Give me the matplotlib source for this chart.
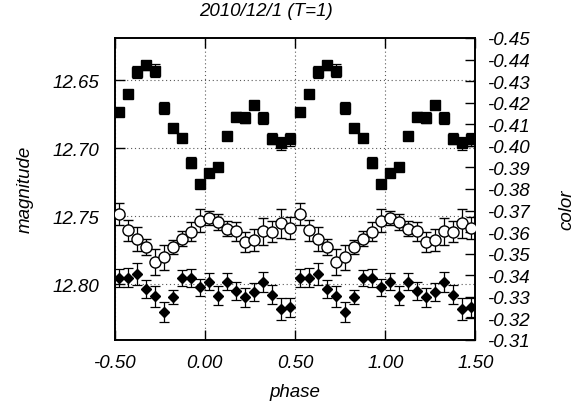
import matplotlib
matplotlib.use('Agg')
import matplotlib.pyplot as plt
import numpy as np

plt.rcParams['font.family'] = ['Liberation Sans', 'DejaVu Sans']
plt.rcParams['font.style'] = 'italic'
plt.rcParams['axes.unicode_minus'] = False

# phase bin centres for one cycle (plotted twice, shifted by one period)
phase = [-0.475, -0.425, -0.375, -0.325, -0.275, -0.225, -0.175, -0.125, -0.075, -0.025,
         0.025, 0.075, 0.125, 0.175, 0.225, 0.275, 0.325, 0.375, 0.425, 0.475]

# filled squares (magnitude, left axis)
mag_sq = [12.6735, 12.6600, 12.6438, 12.6392, 12.6429, 12.6703, 12.6853, 12.6924, 12.7107, 12.7265,
          12.7181, 12.7137, 12.6907, 12.6769, 12.6776, 12.6681, 12.6776, 12.6929, 12.6965, 12.6936]
err_sq = [0.0025, 0.003, 0.0045, 0.0035, 0.0045, 0.0043, 0.0025, 0.0025, 0.004, 0.003,
          0.0025, 0.0025, 0.0025, 0.0034, 0.0039, 0.0025, 0.0044, 0.0043, 0.0049, 0.0045]

# filled diamonds (magnitude, left axis)
mag_dm = [12.7954, 12.7954, 12.7926, 12.8034, 12.8090, 12.8203, 12.8093, 12.7951, 12.7957, 12.8024,
          12.7980, 12.8085, 12.7980, 12.8051, 12.8096, 12.8056, 12.7982, 12.8076, 12.8182, 12.8171]
err_dm = [0.0064, 0.0070, 0.0081, 0.0068, 0.0076, 0.0074, 0.0051, 0.0059, 0.0066, 0.0066,
          0.0064, 0.0071, 0.0064, 0.0066, 0.0070, 0.0064, 0.0074, 0.0070, 0.0079, 0.0068]

# open circles (color, right axis)
col = [-0.3684, -0.3608, -0.3570, -0.3533, -0.3460, -0.3483, -0.3532, -0.3570, -0.3601, -0.3653,
       -0.3665, -0.3646, -0.3616, -0.3605, -0.3553, -0.3564, -0.3603, -0.3601, -0.3641, -0.3619]
err_col = [0.0053, 0.0049, 0.0056, 0.0037, 0.0060, 0.0058, 0.0032, 0.0035, 0.0044, 0.0053,
           0.0032, 0.0037, 0.0035, 0.0044, 0.0046, 0.0051, 0.0063, 0.0049, 0.0067, 0.0049]

xticks = [-0.5, 0.0, 0.5, 1.0, 1.5]
magticks = [12.65, 12.70, 12.75, 12.80]
colticks = [-0.45, -0.44, -0.43, -0.42, -0.41, -0.40, -0.39, -0.38, -0.37, -0.36,
            -0.35, -0.34, -0.33, -0.32, -0.31]

fig = plt.figure(figsize=(5.81, 4.06), dpi=100)
ax = fig.add_axes([114.5/581, 1-341/406, 361/581, 302/406])
ax2 = ax.twinx()

ph = np.array(phase)
x2 = np.concatenate([ph, ph + 1])

ax.errorbar(x2, mag_sq * 2, yerr=err_sq * 2, fmt='s', ms=6.7, color='black',
            ecolor='black', elinewidth=0.9, capsize=3.3, capthick=0.9, zorder=3)
ax.errorbar(x2, mag_dm * 2, yerr=err_dm * 2, fmt='D', ms=5.6, color='black',
            ecolor='black', elinewidth=0.9, capsize=3.3, capthick=0.9, zorder=3)
ax2.errorbar(x2, col * 2, yerr=err_col * 2, fmt='o', ms=8, mfc='white', mec='black',
             mew=1, ecolor='black', elinewidth=0.9, capsize=3.3, capthick=0.9, zorder=3)

ax.set_xlim(-0.5, 1.5)
ax.set_ylim(12.841, 12.619)
ax2.set_ylim(-0.31, -0.45)

ax.set_xticks(xticks)
ax.set_xticklabels(['%.2f' % t for t in xticks])
ax.set_yticks(magticks)
ax.set_yticklabels(['%.2f' % t for t in magticks])
ax2.set_yticks(colticks)
ax2.set_yticklabels(['%.2f' % t for t in colticks])

ax.grid(True, color='0.35', linestyle=(0, (1, 2.5)), linewidth=0.8)
ax.set_axisbelow(True)

ax.tick_params(axis='x', direction='in', length=7, width=1, top=True, pad=10, labelsize=13.5)
ax.tick_params(axis='y', direction='in', length=7, width=1, pad=11, labelsize=13.5)
ax2.tick_params(axis='y', direction='in', length=7, width=1, pad=8, labelsize=13.5)
for a in (ax, ax2):
    for s in a.spines.values():
        s.set_linewidth(1.2)

fig.text(265.5/581, 1-11/406, '2010/12/1 (T=1)', ha='center', va='center', fontsize=13.5)
fig.text(25/581, 1-189/406, 'magnitude', rotation=90, ha='center', va='center', fontsize=13.5)
fig.text(567/581, 1-210/406, 'color', rotation=90, ha='center', va='center', fontsize=13.5)
fig.text(295/581, 1-393/406, 'phase', ha='center', va='center', fontsize=13.5)

plt.savefig('out.png', dpi=100)
